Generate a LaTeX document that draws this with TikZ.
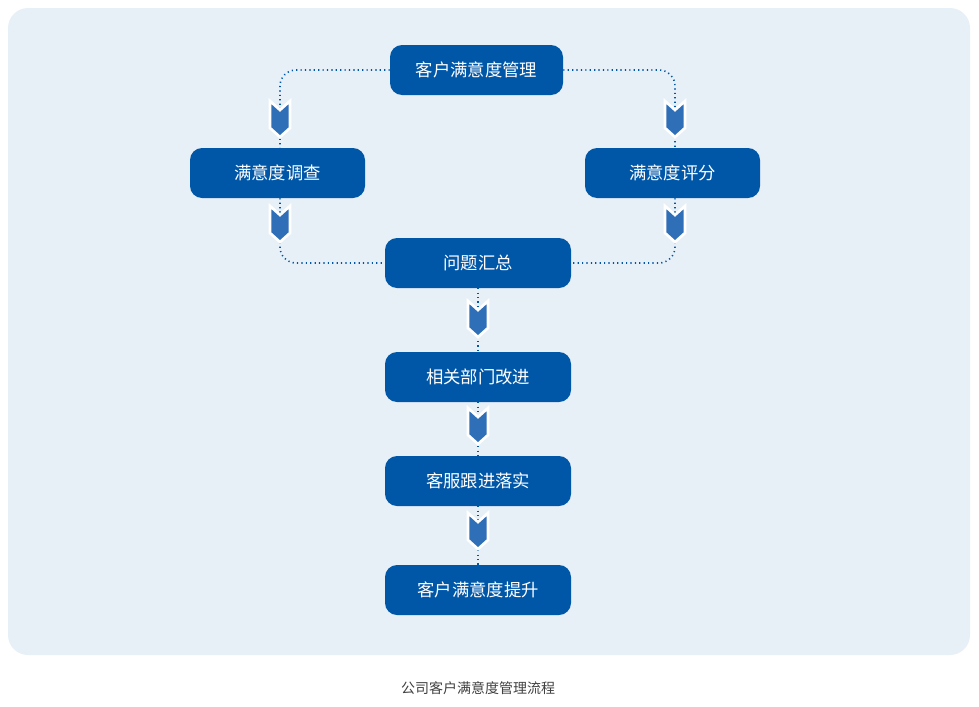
\documentclass[tikz,border=0pt]{standalone}
\usepackage{fontspec}
\setmainfont{Noto Sans CJK SC}
\begin{document}
\begin{tikzpicture}[x=0.75pt,y=-0.75pt,
  box/.style={fill=boxc,rounded corners=9pt,text=white,font=\fontsize{13}{15}\selectfont,minimum height=37.5pt,inner sep=0pt},
  dots/.style={draw=boxc,line width=1.2pt,dash pattern=on 0.9pt off 2.4pt,rounded corners=12pt}]
\definecolor{boxc}{HTML}{0057A8}
\definecolor{chev}{HTML}{2F6FB8}
\definecolor{bg}{HTML}{E8F0F7}
\newcommand{\chv}[2]{\fill[chev,draw=white,line width=2pt,line join=miter] (#1-10,#2-18) -- (#1,#2-9) -- (#1+10,#2-18) -- (#1+10,#2+9) -- (#1,#2+18) -- (#1-10,#2+9) -- cycle;}
\useasboundingbox (0,0) rectangle (979,707);
\fill[bg,rounded corners=15pt] (8,8) rectangle (970,655);
\node[box,minimum width=129.75pt] (a) at (476.5,70) {客户满意度管理};
\node[box,minimum width=131.25pt] (b) at (277.5,173) {满意度调查};
\node[box,minimum width=131.25pt] (c) at (672.5,173) {满意度评分};
\node[box,minimum width=139.5pt] (d) at (478,263) {问题汇总};
\node[box,minimum width=139.5pt] (e) at (478,377) {相关部门改进};
\node[box,minimum width=139.5pt] (f) at (478,481) {客服跟进落实};
\node[box,minimum width=139.5pt] (g) at (478,590) {客户满意度提升};
\draw[dots] (a.west) -| (b.north-|280,0);
\draw[dots] (a.east) -| (c.north-|675,0);
\draw[dots] (b.south-|280,0) |- (d.west);
\draw[dots] (c.south-|675,0) |- (d.east);
\draw[dots] (d.south) -- (e.north);
\draw[dots] (e.south) -- (f.north);
\draw[dots] (f.south) -- (g.north);
\chv{280}{119}\chv{675}{119}
\chv{280}{224}\chv{675}{224}
\chv{478}{319}\chv{478}{426}\chv{478}{531}
\node[text=black!75,font=\fontsize{10.5}{12}\selectfont] (cap) at (478,688) {公司客户满意度管理流程};
\end{tikzpicture}
\end{document}
